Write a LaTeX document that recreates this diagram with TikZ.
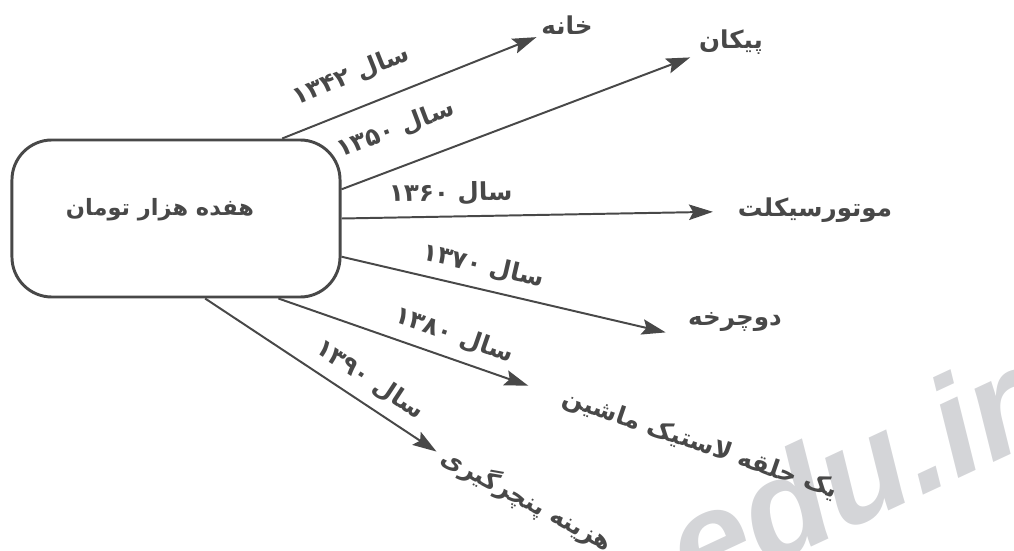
\documentclass[tikz,border=0pt]{standalone}
\usepackage{fontspec}
\usetikzlibrary{arrows.meta}
\TeXXeTstate=1
\newfontfamily\fa[Script=Arabic]{DejaVu Sans}
\newfontfamily\wmfont{Liberation Sans}
\definecolor{ink}{RGB}{72,72,72}
\definecolor{wmgray}{RGB}{212,213,216}
\begin{document}
\begin{tikzpicture}[x=0.025cm,y=-0.025cm,
  txt/.style={text=ink, font=\fa\bfseries\fontsize{17.5}{20}\selectfont},
  lab/.style={txt, sloped, above=4pt},
  conn/.style={draw=ink, line width=1.4pt, -{Stealth[length=17pt,width=11pt,inset=3pt]}},
  boxstyle/.style={draw=ink, line width=2.1pt, rounded corners=1cm, minimum width=8.2cm, minimum height=3.925cm},
  wmstyle/.style={text=wmgray, font=\wmfont\bfseries\itshape\fontsize{100}{104}\selectfont}]
\useasboundingbox (0,0) rectangle (1014,551);
\begin{scope}
  \clip (0,0) rectangle (1014,551);
  \node[wmstyle, rotate=25, anchor=base west, inner sep=0pt] (wm) at (694,602) {edu.ir};
\end{scope}
\node[boxstyle] (box) at (176,218.5) {};
\node[txt, font=\fa\bfseries\fontsize{16}{19}\selectfont] (title) at (160,210) {\beginR هفده هزار تومان\endR};
\node[txt] (t1) at (567,25) {\beginR خانه\endR};
\node[txt] (t2) at (731,42) {\beginR پیکان\endR};
\node[txt] (t3) at (815,210) {\beginR موتورسیکلت\endR};
\node[txt] (t4) at (735,322) {\beginR دوچرخه\endR};
\node[txt, rotate=-19] (t5) at (700,445) {\beginR یک حلقه لاستیک ماشین\endR};
\node[txt, rotate=-28] (t6) at (527,500) {\beginR هزینه پنچرگیری\endR};
\draw[conn] (box.37) -- node[lab, pos=0.32, above=7pt] (l1) {\beginR سال \beginL۱۳۴۲\endL\endR} (t1);
\draw[conn, shorten >=3pt] (box.10.4) -- node[lab, pos=0.19, above=10pt] (l2) {\beginR سال \beginL۱۳۵۰\endL\endR} (t2);
\draw[conn, shorten >=0.5cm] (box.east) -- node[lab, pos=0.28] (l3) {\beginR سال \beginL۱۳۶۰\endL\endR} (t3);
\draw[conn, shorten >=0.45cm] (box.-13.4) -- node[lab, pos=0.4] (l4) {\beginR سال \beginL۱۳۷۰\endL\endR} (t4.south west);
\draw[conn, shorten >=0.8cm] (box.-38) -- node[lab, pos=0.6] (l5) {\beginR سال \beginL۱۳۸۰\endL\endR} (t5.west);
\draw[conn, shorten >=2pt] (box.-70) -- node[lab, pos=0.65] (l6) {\beginR سال \beginL۱۳۹۰\endL\endR} (t6.west);
\end{tikzpicture}
\end{document}
